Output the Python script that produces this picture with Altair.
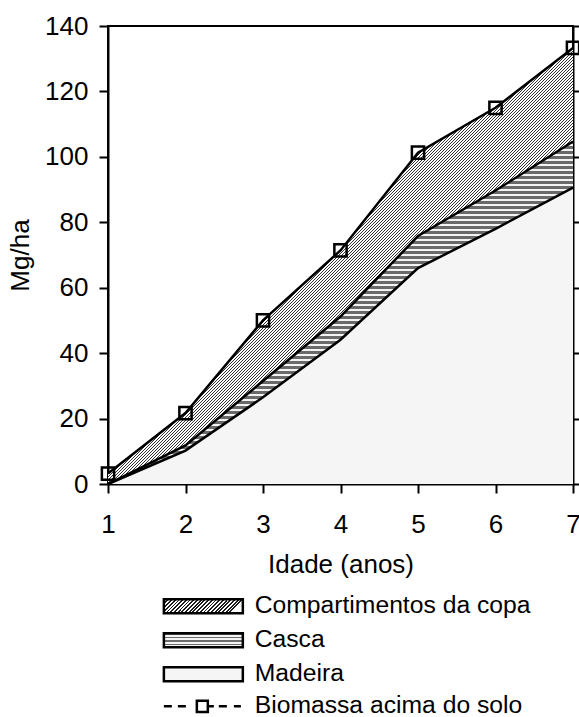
import json
import altair as alt
import pandas as pd

# ---- data ----
idade = [1, 2, 3, 4, 5, 6, 7]
madeira = [0.0, 10.2, 26.5, 44.1, 66.0, 78.0, 90.6]
casca = [0.0, 1.6, 5.0, 7.1, 9.8, 11.7, 14.1]
copa = [3.2, 9.9, 18.5, 20.2, 25.5, 25.3, 28.6]
series = ["Madeira", "Casca", "Compartimentos da copa"]
legend_order = ["Compartimentos da copa", "Casca", "Madeira"]
total_name = "Biomassa acima do solo"
y_ticks = [0, 20, 40, 60, 80, 100, 120, 140]

rows = []
for k, (name, vals) in enumerate(zip(series, [madeira, casca, copa])):
    for x, v in zip(idade, vals):
        rows.append({"idade": x, "serie": name, "ordem": k, "valor": v})
df = pd.DataFrame(rows)

FONT = "Liberation Sans"
FS = 26
LFS = 24.7
W, H = 465, 458
YMAX = 140


def stripes(n, dark, light, frac, x1, y1, x2, y2):
    """Hard-stop linear gradient imitating a line hatch (n may be fractional)."""
    stops = []
    i = 0
    while i / n < 1:
        a = i / n
        b = min((i + frac) / n, 1.0)
        c = min((i + 1) / n, 1.0)
        stops += [
            {"offset": round(a, 6), "color": dark},
            {"offset": round(b, 6), "color": dark},
            {"offset": round(b, 6), "color": light},
            {"offset": round(c, 6), "color": light},
        ]
        i += 1
    return {"gradient": "linear", "x1": x1, "y1": y1, "x2": x2, "y2": y2, "stops": stops}


# bounding boxes of the two hatched areas (for pixel-regular hatch spacing)
tot_max = max(m + c + p for m, c, p in zip(madeira, casca, copa))
casca_top = max(m + c for m, c in zip(madeira, casca))
h_copa = H * tot_max / YMAX
h_casca = H * casca_top / YMAX
b = h_copa / W
n_copa = W * (1 + b * b) / 3.0          # 45 degree hatch, 3 px period
n_casca = h_casca / 5.0                 # horizontal lines, 5 px period

grad_copa = stripes(n_copa, "#333333", "#ffffff", 0.34, 0, 0, 1, b)
grad_casca = stripes(n_casca, "#6a6a6a", "#f4f4f4", 0.42, 0, 0, 0, 1)
fill_madeira = "#f5f5f5"

# smaller pattern versions for the legend swatches
leg_copa = stripes(22, "#1e1e1e", "#ffffff", 0.5, 0, 0, 1, 0.177)
leg_casca = stripes(4, "#6a6a6a", "#f4f4f4", 0.42, 0, 0, 0, 1)

xscale = alt.Scale(domain=[1, 7], nice=False, zero=False)
yscale = alt.Scale(domain=[0, YMAX], nice=False)

common_axis = dict(
    domainColor="black", domainWidth=2, tickColor="black", tickWidth=2,
    labelColor="black", labelFont=FONT, labelFontSize=FS,
    titleColor="black", titleFont=FONT, titleFontSize=FS, titleFontWeight="normal",
    grid=False,
)

xaxis = alt.Axis(values=idade, title="Idade (anos)", tickSize=9, labelPadding=18,
                 labelFlush=False, labelOverlap=False, format="d",
                 titleY=88, titleBaseline="alphabetic", **common_axis)
yaxis_left = alt.Axis(values=y_ticks, title="Mg/ha", tickSize=9, labelPadding=11,
                      labelOverlap=False, format="d",
                      titleX=-80, titleBaseline="alphabetic", **common_axis)
yaxis_right = alt.Axis(orient="right", values=y_ticks, labels=False, title=None,
                       tickSize=6, domainColor="black", domainWidth=2,
                       tickColor="black", tickWidth=2, grid=False)

X = alt.X("idade:Q", scale=xscale, axis=xaxis)
Ynone = alt.Y("y1:Q", scale=yscale, axis=None)

rect_path = "M-5.64,-1H5.64V1H-5.64Z"
line_path = ("M-5.64,0H-4.5M-3.64,0H-2.5M-0.93,-0.79H0.64V0.79H-0.93Z"
             "M0.64,0H1.5M2.21,0H3.36M4.36,0H5.36")

base = alt.Chart(df).transform_stack(
    stack="valor", groupby=["idade"], as_=["y0", "y1"],
    sort=[alt.SortField("ordem", order="ascending")],
)

# base areas (provide the left axis and the fill legend)
areas = base.mark_area(strokeWidth=0).encode(
    x=X,
    y=alt.Y("y1:Q", scale=yscale, axis=yaxis_left),
    y2="y0:Q",
    fill=alt.Fill(
        "serie:N",
        scale=alt.Scale(
            domain=legend_order,
            range=[{"expr": json.dumps(leg_copa)}, {"expr": json.dumps(leg_casca)}, fill_madeira],
        ),
        legend=alt.Legend(
            title=None, orient="none", legendX=83, legendY=568, direction="vertical",
            symbolType=rect_path, symbolSize=196, symbolStrokeColor="black",
            symbolStrokeWidth=2.5, labelFont=FONT, labelFontSize=LFS, labelColor="black",
            labelOffset=39, rowPadding=8, padding=0, labelLimit=500,
        ),
    ),
)

over = []
for name, f in [("Madeira", fill_madeira), ("Casca", grad_casca), ("Compartimentos da copa", grad_copa)]:
    over.append(
        base.transform_filter(alt.datum.serie == name)
        .mark_area(fill=f, strokeWidth=0)
        .encode(x=X, y=Ynone, y2="y0:Q")
    )

bounds = base.transform_filter(alt.datum.serie != "Compartimentos da copa").mark_line(
    color="black", strokeWidth=2.5
).encode(x=X, y=Ynone, detail="serie:N")

top = base.transform_filter(alt.datum.serie == "Compartimentos da copa").transform_calculate(
    leg="'" + total_name + "'"
)

total_line = top.mark_line(strokeWidth=2.5).encode(
    x=X, y=Ynone,
    stroke=alt.Stroke(
        "leg:N",
        scale=alt.Scale(domain=[total_name], range=["black"]),
        legend=alt.Legend(
            title=None, orient="none", legendX=83, legendY=668,
            symbolType=line_path, symbolSize=196, symbolStrokeWidth=2.5,
            symbolStrokeColor="black", symbolFillColor="white",
            labelFont=FONT, labelFontSize=LFS, labelColor="black",
            labelOffset=39, padding=0, labelLimit=500,
        ),
    ),
)

squares = top.mark_point(shape="square", size=150, filled=False, color="black",
                         strokeWidth=2.5, opacity=1).encode(x=X, y=Ynone)

right_axis = top.mark_line(opacity=0).encode(
    x=X, y=alt.Y("y1:Q", scale=yscale, axis=yaxis_right)
)

chart = alt.layer(areas, *over, bounds, total_line, squares, right_axis).resolve_axis(
    y="independent"
).properties(
    width=W, height=H, autosize="none",
    padding={"left": 108, "top": 26, "right": 6, "bottom": 233},
    background="white",
).configure(font=FONT).configure_view(stroke="black", strokeWidth=2)

chart.save("out.html", embed_options={"renderer": "svg", "actions": False})
